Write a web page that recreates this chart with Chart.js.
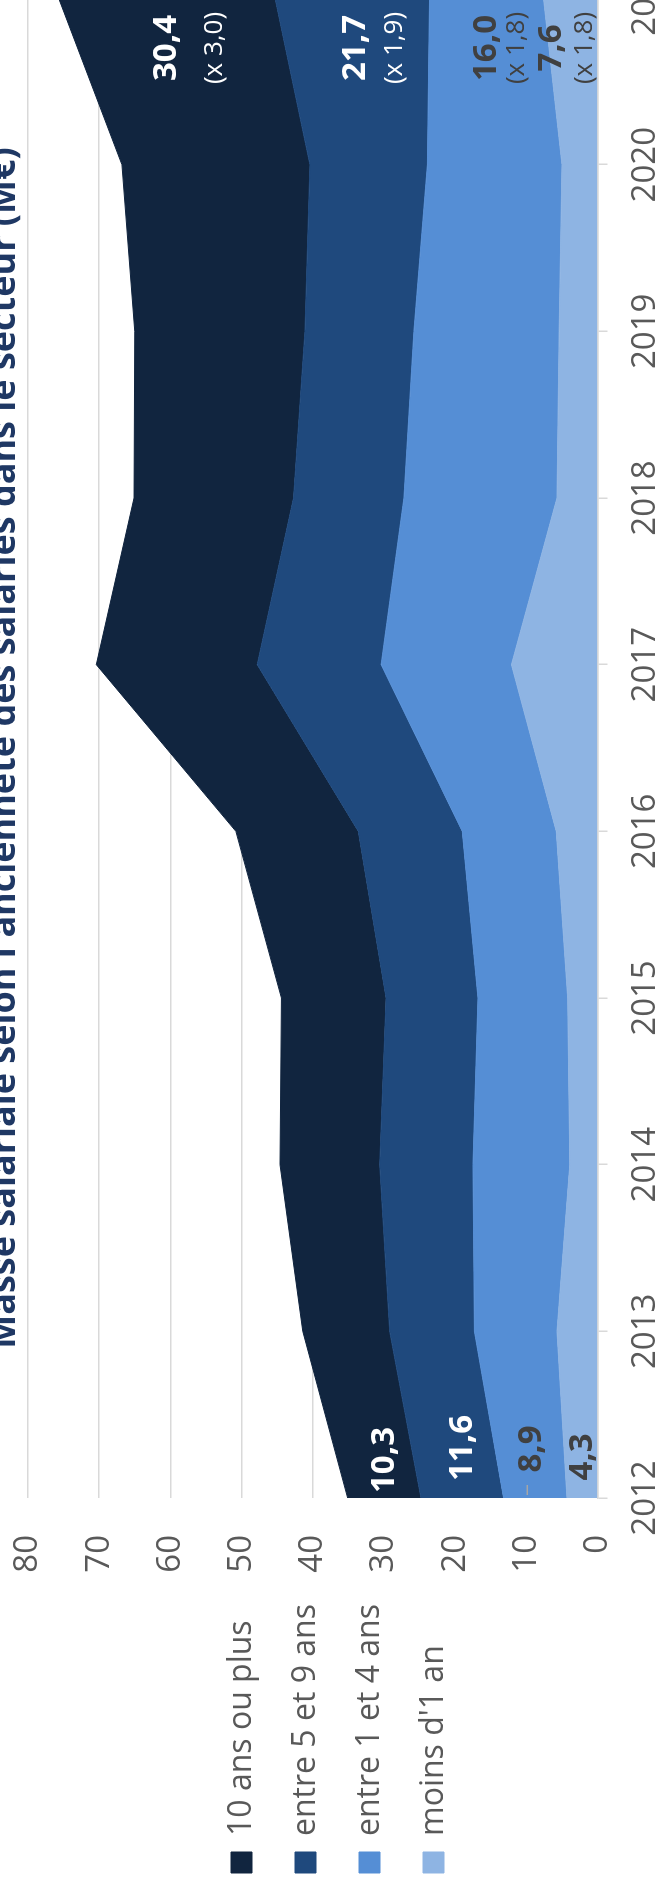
<!DOCTYPE html>
<html lang="fr">
<head>
<meta charset="utf-8">
<script src="https://cdn.jsdelivr.net/npm/chart.js@4.4.1/dist/chart.umd.min.js"></script>
<style>
    html, body { margin: 0; padding: 0; background: #fff; width: 658px; height: 1885px; overflow: hidden; }
    /* the chart is drawn landscape then turned a quarter to the left */
    #wrap { position: absolute; left: 0; top: 0; width: 1907px; height: 658px;
            transform-origin: 0 0; transform: translate(0, 1905px) rotate(-90deg); }
</style>
</head>
<body>
<div id="wrap"><canvas id="masseChart" width="1907" height="658"></canvas></div>
<script>
const annees = ['2012', '2013', '2014', '2015', '2016', '2017', '2018', '2019', '2020', '2021'];
const moinsUnAn = [4.3, 5.7, 3.9, 4.2, 5.8, 12.1, 5.7, 5.4, 5.0, 7.6];
const unAQuatreAns = [8.9, 11.6, 13.6, 12.6, 13.2, 18.3, 21.5, 20.4, 18.9, 16.0];
const cinqANeufAns = [11.6, 11.9, 13.1, 12.9, 14.6, 17.4, 15.5, 15.3, 16.5, 21.7];
const dixAnsEtPlus = [10.3, 12.2, 14.0, 14.7, 17.2, 22.6, 22.4, 23.9, 26.4, 30.4];
const nomsSeries = ["moins d'1 an", 'entre 1 et 4 ans', 'entre 5 et 9 ans', '10 ans ou plus'];
const valeursSeries = [moinsUnAn, unAQuatreAns, cinqANeufAns, dixAnsEtPlus];
const couleurs = ['#8eb4e3', '#558ed5', '#1f497d', '#11253f'];
const couleursTexte = ['#404040', '#404040', '#ffffff', '#ffffff'];

const FONT = "'Open Sans', 'DejaVu Sans', sans-serif";

function fr(v) {
    return v.toFixed(1).replace('.', ',');
}

// labels on the first and last year, placed in the middle of each band
const etiquettes = {
    id: 'etiquettes',
    afterDatasetsDraw(chart) {
        const ctx = chart.ctx;
        const xs = chart.scales.x, ys = chart.scales.y;
        const last = annees.length - 1;
        const startDx = [41, 49, 50, 38], startDy = [0, -4, 0, 0];
        const endDy = [-19, 0, 3, 0], subGap = [33, 30, 39, 48];
        let baseStart = 0, baseEnd = 0;
        ctx.save();
        ctx.textAlign = 'center';
        ctx.textBaseline = 'middle';
        valeursSeries.forEach((vals, i) => {
            const v0 = vals[0], v1 = vals[last];
            ctx.fillStyle = couleursTexte[i];

            const x0 = xs.getPixelForValue(0) + startDx[i];
            const y0 = ys.getPixelForValue(baseStart + v0 / 2) + startDy[i];
            ctx.font = 'bold 33px ' + FONT;
            ctx.fillText(fr(v0), x0, y0);
            if (i === 1) {
                ctx.strokeStyle = '#a6a6a6';
                ctx.lineWidth = 1.5;
                ctx.beginPath();
                ctx.moveTo(xs.getPixelForValue(0) + 3, y0 - 4);
                ctx.lineTo(xs.getPixelForValue(0) + 13, y0 - 4);
                ctx.stroke();
            }

            const x1 = xs.getPixelForValue(last) - 50;
            const y1 = ys.getPixelForValue(baseEnd + v1 / 2) + endDy[i];
            ctx.fillText(fr(v1), x1, y1);
            ctx.font = '26px ' + FONT;
            ctx.fillText('(x ' + fr(v1 / v0) + ')', x1, y1 + subGap[i]);

            baseStart += v0;
            baseEnd += v1;
        });
        ctx.restore();
    }
};

const ctx = document.getElementById('masseChart');
new Chart(ctx, {
    type: 'line',
    data: {
        labels: annees,
        datasets: valeursSeries.map((vals, i) => ({
            label: nomsSeries[i],
            data: vals,
            backgroundColor: couleurs[i],
            borderColor: couleurs[i],
            borderWidth: 1,
            pointRadius: 0,
            tension: 0,
            fill: i === 0 ? 'origin' : '-1'
        }))
    },
    options: {
        responsive: false,
        animation: false,
        layout: { padding: 0 },
        scales: {
            x: {
                offset: false,
                grid: { drawOnChartArea: false, drawTicks: true, tickLength: 10, color: '#d9d9d9', lineWidth: 1.5 },
                border: { display: true, color: '#d9d9d9', width: 1.5 },
                ticks: { color: '#595959', font: { family: FONT, size: 33 }, padding: 18, maxRotation: 0, autoSkip: false },
                afterFit: (scale) => {
                    scale.height = 60.4;
                    scale.paddingLeft = 0;
                    scale.paddingRight = 0;
                }
            },
            y: {
                stacked: true,
                min: 0,
                max: 80,
                grid: { color: '#d9d9d9', lineWidth: 1.5, drawTicks: false },
                border: { display: false },
                ticks: { stepSize: 10, color: '#595959', font: { family: FONT, size: 33 }, padding: 37 },
                afterFit: (scale) => {
                    const lg = scale.chart.legend;
                    scale.width = (lg && lg.width) ? 407 - lg.width : 94;
                    // tick padding would otherwise push the plot down
                    scale.paddingTop = 0;
                    scale.paddingBottom = 0;
                }
            }
        },
        plugins: {
            title: {
                display: true,
                fullSize: false,
                text: "Masse salariale selon l'ancienneté des salariés dans le secteur (M€)",
                color: '#1f3864',
                // tiny line height so only the foot of the title shows at the page edge
                font: { family: FONT, size: 36, weight: 'bold', lineHeight: 0.26 },
                padding: { top: 0, bottom: 18.6 }
            },
            legend: {
                position: 'left',
                reverse: true,
                title: { display: true, text: '', padding: { top: 0, bottom: 7 }, font: { size: 10, lineHeight: 1 } },
                labels: {
                    boxWidth: 21,
                    boxHeight: 21,
                    padding: 32,
                    color: '#595959',
                    font: { family: FONT, size: 32 }
                }
            },
            tooltip: { enabled: false }
        }
    },
    plugins: [etiquettes]
});
</script>
</body>
</html>
